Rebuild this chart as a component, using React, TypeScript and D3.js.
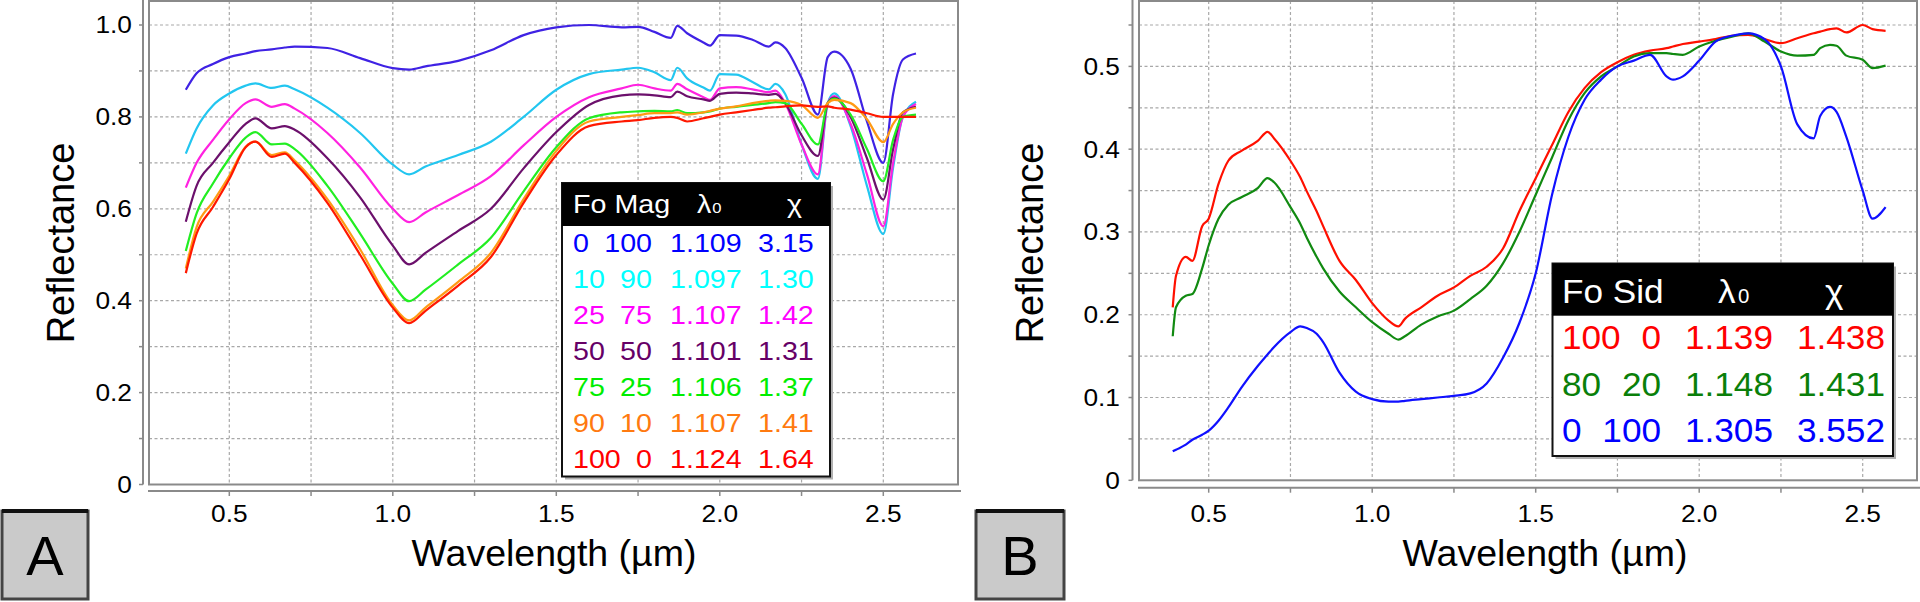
import React, { useEffect, useRef } from 'react';
import * as d3 from 'd3';

// ---------- Panel A data (olivine / magnetite mixtures) ----------
const WL_A = [0.367, 0.4, 0.45, 0.5, 0.55, 0.58, 0.63, 0.67, 0.7, 0.8, 0.9, 1.0, 1.05, 1.1, 1.2, 1.3, 1.4, 1.5, 1.6, 1.7, 1.75, 1.8, 1.85, 1.87, 1.9, 1.95, 1.97, 2.0, 2.05, 2.1, 2.15, 2.17, 2.2, 2.25, 2.3, 2.33, 2.35, 2.4, 2.45, 2.5, 2.53, 2.56, 2.6];
const A_FO0 = [0.859, 0.895, 0.915, 0.93, 0.938, 0.943, 0.947, 0.951, 0.953, 0.95, 0.928, 0.906, 0.903, 0.91, 0.922, 0.945, 0.978, 0.995, 1.0, 0.995, 0.996, 0.985, 0.972, 0.998, 0.982, 0.962, 0.955, 0.978, 0.977, 0.968, 0.953, 0.962, 0.95, 0.885, 0.805, 0.93, 0.942, 0.905, 0.79, 0.7, 0.85, 0.925, 0.938];
const A_FO10 = [0.72, 0.775, 0.825, 0.851, 0.868, 0.873, 0.863, 0.868, 0.86, 0.82, 0.765, 0.696, 0.675, 0.692, 0.717, 0.746, 0.8, 0.859, 0.893, 0.903, 0.907, 0.897, 0.88, 0.907, 0.884, 0.864, 0.857, 0.893, 0.892, 0.876, 0.86, 0.872, 0.85, 0.74, 0.665, 0.83, 0.851, 0.78, 0.65, 0.545, 0.69, 0.8, 0.833];
const A_FO25 = [0.646, 0.7, 0.75, 0.795, 0.83, 0.838, 0.822, 0.828, 0.818, 0.765, 0.69, 0.6, 0.571, 0.592, 0.63, 0.671, 0.738, 0.8, 0.843, 0.862, 0.87, 0.862, 0.857, 0.872, 0.86, 0.843, 0.837, 0.862, 0.865, 0.86, 0.854, 0.857, 0.83, 0.74, 0.675, 0.83, 0.845, 0.785, 0.675, 0.562, 0.7, 0.8, 0.828];
const A_FO50 = [0.572, 0.65, 0.7, 0.745, 0.785, 0.797, 0.775, 0.78, 0.772, 0.71, 0.625, 0.52, 0.479, 0.504, 0.552, 0.6, 0.688, 0.767, 0.826, 0.847, 0.849, 0.847, 0.843, 0.855, 0.845, 0.838, 0.835, 0.85, 0.853, 0.851, 0.848, 0.85, 0.83, 0.76, 0.715, 0.83, 0.842, 0.8, 0.71, 0.62, 0.73, 0.81, 0.822];
const A_FO75 = [0.508, 0.59, 0.655, 0.71, 0.755, 0.767, 0.74, 0.742, 0.73, 0.65, 0.546, 0.437, 0.399, 0.424, 0.479, 0.537, 0.638, 0.734, 0.797, 0.81, 0.812, 0.813, 0.812, 0.815, 0.808, 0.81, 0.812, 0.818, 0.822, 0.826, 0.83, 0.832, 0.83, 0.785, 0.74, 0.83, 0.84, 0.805, 0.73, 0.66, 0.75, 0.8, 0.805];
const A_FO90 = [0.47, 0.56, 0.615, 0.672, 0.735, 0.746, 0.717, 0.723, 0.705, 0.621, 0.512, 0.39, 0.357, 0.385, 0.441, 0.504, 0.621, 0.726, 0.79, 0.8, 0.804, 0.808, 0.808, 0.81, 0.805, 0.81, 0.813, 0.818, 0.823, 0.83, 0.835, 0.836, 0.835, 0.826, 0.798, 0.83, 0.837, 0.83, 0.795, 0.745, 0.785, 0.81, 0.82];
const A_FO100 = [0.46, 0.546, 0.604, 0.665, 0.734, 0.746, 0.713, 0.72, 0.7, 0.613, 0.5, 0.385, 0.351, 0.378, 0.433, 0.495, 0.613, 0.717, 0.78, 0.79, 0.793, 0.798, 0.8, 0.798, 0.79, 0.797, 0.8, 0.805, 0.81, 0.815, 0.82, 0.821, 0.823, 0.825, 0.822, 0.823, 0.82, 0.816, 0.808, 0.8, 0.8, 0.8, 0.8];

const A_LINE_COLORS = ['#3f22e4', '#22c6f0', '#ff22e0', '#6c106c', '#22ee22', '#ff9a14', '#ff1800'];
const A_TEXT_COLORS = ['#0000ff', '#00ffff', '#ff00ff', '#660066', '#00ee00', '#ff7a10', '#ff0000'];
const A_LEG_FO = ['0', '10', '25', '50', '75', '90', '100'];
const A_LEG_MAG = ['100', '90', '75', '50', '25', '10', '0'];
const A_LEG_L0 = ['1.109', '1.097', '1.107', '1.101', '1.106', '1.107', '1.124'];
const A_LEG_CHI = ['3.15', '1.30', '1.42', '1.31', '1.37', '1.41', '1.64'];

// ---------- Panel B data (olivine / siderite mixtures) ----------
const WL_B = [0.39, 0.4, 0.43, 0.45, 0.48, 0.5, 0.53, 0.56, 0.6, 0.65, 0.68, 0.7, 0.75, 0.78, 0.8, 0.83, 0.85, 0.9, 0.95, 1.0, 1.05, 1.08, 1.1, 1.15, 1.2, 1.25, 1.3, 1.35, 1.4, 1.45, 1.5, 1.55, 1.6, 1.65, 1.7, 1.75, 1.8, 1.85, 1.9, 1.92, 1.95, 2.0, 2.05, 2.1, 2.15, 2.2, 2.25, 2.3, 2.35, 2.37, 2.4, 2.42, 2.45, 2.5, 2.53, 2.57];
const B_FO100 = [0.209, 0.247, 0.27, 0.265, 0.307, 0.316, 0.358, 0.386, 0.398, 0.41, 0.421, 0.413, 0.386, 0.366, 0.349, 0.325, 0.307, 0.265, 0.242, 0.214, 0.193, 0.186, 0.195, 0.209, 0.223, 0.233, 0.247, 0.258, 0.28, 0.325, 0.365, 0.405, 0.445, 0.474, 0.493, 0.505, 0.514, 0.519, 0.522, 0.524, 0.527, 0.53, 0.533, 0.537, 0.538, 0.533, 0.528, 0.534, 0.54, 0.542, 0.545, 0.546, 0.541, 0.55, 0.545, 0.543];
const B_FO80 = [0.174, 0.209, 0.223, 0.225, 0.256, 0.284, 0.316, 0.333, 0.342, 0.353, 0.365, 0.36, 0.33, 0.31, 0.293, 0.27, 0.256, 0.228, 0.209, 0.191, 0.177, 0.17, 0.174, 0.188, 0.198, 0.205, 0.219, 0.235, 0.262, 0.3, 0.345, 0.39, 0.435, 0.468, 0.488, 0.5, 0.512, 0.516, 0.516, 0.515, 0.514, 0.524, 0.531, 0.536, 0.54, 0.53, 0.518, 0.513, 0.514, 0.522, 0.526, 0.525, 0.513, 0.508, 0.498, 0.501];
const B_FO0 = [0.035, 0.037, 0.043, 0.049, 0.055, 0.06, 0.072, 0.088, 0.112, 0.138, 0.152, 0.161, 0.179, 0.186, 0.184, 0.177, 0.167, 0.13, 0.107, 0.098, 0.095, 0.095, 0.096, 0.098, 0.1, 0.102, 0.105, 0.117, 0.148, 0.19, 0.25, 0.345, 0.415, 0.46, 0.484, 0.5, 0.507, 0.514, 0.488, 0.484, 0.488, 0.507, 0.53, 0.537, 0.54, 0.533, 0.5, 0.43, 0.413, 0.44, 0.451, 0.445, 0.415, 0.35, 0.316, 0.33];

const B_LINE_COLORS = ['#ff1000', '#118a11', '#1010ff'];
const B_TEXT_COLORS = ['#ff0000', '#0a7f0a', '#0000ff'];
const B_LEG_FO = ['100', '80', '0'];
const B_LEG_SID = ['0', '20', '100'];
const B_LEG_L0 = ['1.139', '1.148', '1.305'];
const B_LEG_CHI = ['1.438', '1.431', '3.552'];

const X_TICKS = [0.5, 1.0, 1.5, 2.0, 2.5];
const X_TICK_LABELS = ['0.5', '1.0', '1.5', '2.0', '2.5'];
const A_Y_TICKS = [0, 0.2, 0.4, 0.6, 0.8, 1.0];
const A_Y_LABELS = ['0', '0.2', '0.4', '0.6', '0.8', '1.0'];
const B_Y_TICKS = [0, 0.1, 0.2, 0.3, 0.4, 0.5];
const B_Y_LABELS = ['0', '0.1', '0.2', '0.3', '0.4', '0.5'];

const FONT = "'Liberation Sans', Arial, Helvetica, sans-serif";

export default function App() {
  const ref = useRef<SVGSVGElement | null>(null);

  useEffect(() => {
    const svg = d3.select(ref.current);
    svg.selectAll('*').remove();

    type Panel = {
      frame: { l: number; t: number; r: number; b: number };
      x: d3.ScaleLinear<number, number>;
      y: d3.ScaleLinear<number, number>;
      gridY: number[];
      yTicks: number[];
      yLabels: string[];
      axisX: number;
      axisY: number;
      yLabelRight: number;
      titleX: number;
      ylabX: number;
      wl: number[];
      series: number[][];
      colors: string[];
      tag: string;
      tagBox: { x: number; w: number };
    };

    const xA = d3.scaleLinear().domain([0.5, 2.5]).range([229.3, 883.3]);
    const yA = d3.scaleLinear().domain([0, 1]).range([484.5, 25]);
    const xB = d3.scaleLinear().domain([0.5, 2.5]).range([1208.7, 1862.7]);
    const yB = d3.scaleLinear().domain([0, 0.5]).range([480.3, 66.4]);

    const panels: Panel[] = [
      {
        frame: { l: 149, t: 1, r: 958, b: 484.5 },
        x: xA, y: yA,
        gridY: d3.range(1, 11).map((d) => d / 10),
        yTicks: A_Y_TICKS, yLabels: A_Y_LABELS,
        axisX: 143, axisY: 491, yLabelRight: 132,
        titleX: 554, ylabX: 74,
        wl: WL_A,
        series: [A_FO0, A_FO10, A_FO25, A_FO50, A_FO75, A_FO90, A_FO100],
        colors: A_LINE_COLORS,
        tag: 'A', tagBox: { x: 2, w: 86 },
      },
      {
        frame: { l: 1139, t: 1, r: 1917, b: 480.3 },
        x: xB, y: yB,
        gridY: d3.range(1, 12).map((d) => d / 20),
        yTicks: B_Y_TICKS, yLabels: B_Y_LABELS,
        axisX: 1132.5, axisY: 487.7, yLabelRight: 1120,
        titleX: 1545, ylabX: 1043,
        wl: WL_B,
        series: [B_FO100, B_FO80, B_FO0],
        colors: B_LINE_COLORS,
        tag: 'B', tagBox: { x: 976, w: 88 },
      },
    ];

    panels.forEach((p) => {
      const g = svg.append('g');
      const f = p.frame;
      const gridX = d3.range(2, 11).map((d) => d / 4);
      // grid
      g.selectAll('line.gx').data(gridX).enter().append('line')
        .attr('x1', (d) => p.x(d)).attr('x2', (d) => p.x(d))
        .attr('y1', f.t).attr('y2', f.b)
        .attr('stroke', '#a8a8a8').attr('stroke-width', 1.2).attr('stroke-dasharray', '3,2.5');
      g.selectAll('line.gy').data(p.gridY).enter().append('line')
        .attr('x1', f.l).attr('x2', f.r)
        .attr('y1', (d) => p.y(d)).attr('y2', (d) => p.y(d))
        .attr('stroke', '#a8a8a8').attr('stroke-width', 1.2).attr('stroke-dasharray', '3,2.5');
      // frame
      g.append('rect').attr('x', f.l).attr('y', f.t).attr('width', f.r - f.l).attr('height', f.b - f.t)
        .attr('fill', 'none').attr('stroke', '#8a8a8a').attr('stroke-width', 2);
      // outer axis lines
      g.append('line').attr('x1', p.axisX).attr('x2', p.axisX).attr('y1', 0).attr('y2', f.b)
        .attr('stroke', '#8a8a8a').attr('stroke-width', 2);
      g.selectAll('line.ty').data(p.gridY.concat([0])).enter().append('line')
        .attr('x1', p.axisX - 4).attr('x2', p.axisX)
        .attr('y1', (d) => p.y(d)).attr('y2', (d) => p.y(d))
        .attr('stroke', '#8a8a8a').attr('stroke-width', 1.5);
      g.append('line').attr('x1', f.l - 1).attr('x2', f.r + 3).attr('y1', p.axisY).attr('y2', p.axisY)
        .attr('stroke', '#8a8a8a').attr('stroke-width', 2);
      g.selectAll('line.tx').data(gridX).enter().append('line')
        .attr('x1', (d) => p.x(d)).attr('x2', (d) => p.x(d))
        .attr('y1', p.axisY).attr('y2', p.axisY + 5)
        .attr('stroke', '#8a8a8a').attr('stroke-width', 1.5);
      // tick labels
      g.selectAll('text.xl').data(X_TICKS).enter().append('text')
        .attr('transform', (d) => `translate(${p.x(d)},522) scale(1.12,1)`)
        .attr('text-anchor', 'middle').attr('font-family', FONT).attr('font-size', 23.5)
        .attr('fill', '#000').text((d, i) => X_TICK_LABELS[i]);
      g.selectAll('text.yl').data(p.yTicks).enter().append('text')
        .attr('transform', (d) => `translate(${p.yLabelRight},${p.y(d) + 8.4}) scale(1.12,1)`)
        .attr('text-anchor', 'end').attr('font-family', FONT).attr('font-size', 23.5)
        .attr('fill', '#000').text((d, i) => p.yLabels[i]);
      // titles
      g.append('text').attr('x', p.titleX).attr('y', 566).attr('text-anchor', 'middle')
        .attr('font-family', FONT).attr('font-size', 37.5).attr('fill', '#000').text('Wavelength (µm)');
      g.append('text').attr('transform', `translate(${p.ylabX},243) rotate(-90)`).attr('text-anchor', 'middle')
        .attr('font-family', FONT).attr('font-size', 38).attr('fill', '#000').text('Reflectance');
      // series
      const line = d3.line<number>()
        .x((d, i) => p.x(p.wl[i]))
        .y((d) => p.y(d))
        .curve(d3.curveMonotoneX);
      p.series.forEach((s, i) => {
        g.append('path').attr('d', line(s) as string).attr('fill', 'none')
          .attr('stroke', p.colors[i]).attr('stroke-width', 2.2).attr('stroke-linejoin', 'round');
      });
      // tag box
      g.append('rect').attr('x', p.tagBox.x).attr('y', 511).attr('width', p.tagBox.w).attr('height', 88)
        .attr('fill', '#cacaca').attr('stroke', '#444').attr('stroke-width', 3);
      g.append('line').attr('x1', p.tagBox.x).attr('x2', p.tagBox.x + p.tagBox.w).attr('y1', 511).attr('y2', 511)
        .attr('stroke', '#111').attr('stroke-width', 4);
      g.append('text').attr('x', p.tagBox.x + p.tagBox.w / 2).attr('y', 575).attr('text-anchor', 'middle')
        .attr('font-family', FONT).attr('font-size', 56).attr('fill', '#000').text(p.tag);
    });

    // ---------- Legends ----------
    const legend = (
      box: { l: number; t: number; r: number; b: number; hb: number },
      head: { base: number; fo: number; lam: number; chi: number; label: string },
      rows: { base0: number; step: number },
      cols: { c1: number; c2: number; c3: number; c4: number },
      fs: number, sx: number,
      c1: string[], c2: string[], c3: string[], c4: string[], colors: string[]
    ) => {
      const g = svg.append('g');
      g.append('rect').attr('x', box.l + 3).attr('y', box.t + 3).attr('width', box.r - box.l).attr('height', box.b - box.t)
        .attr('fill', '#b0b0b0');
      g.append('rect').attr('x', box.l).attr('y', box.t).attr('width', box.r - box.l).attr('height', box.b - box.t)
        .attr('fill', '#fff').attr('stroke', '#111').attr('stroke-width', 2);
      g.append('rect').attr('x', box.l).attr('y', box.t).attr('width', box.r - box.l).attr('height', box.hb - box.t)
        .attr('fill', '#000');
      const t = (x: number, y: number, s: string, col: string, anchor = 'start', size = fs) =>
        g.append('text').attr('transform', `translate(${x},${y}) scale(${sx},1)`).attr('text-anchor', anchor)
          .attr('font-family', FONT).attr('font-size', size).attr('fill', col).text(s);
      t(head.fo, head.base, head.label, '#fff');
      t(head.lam, head.base, 'λ', '#fff');
      t(head.lam + fs * 0.6, head.base, '0', '#fff', 'start', fs * 0.58);
      t(head.chi, head.base, 'χ', '#fff');
      c1.forEach((s, i) => {
        const y = rows.base0 + rows.step * i;
        t(cols.c1, y, s, colors[i]);
        t(cols.c2, y, c2[i], colors[i], 'end');
        t(cols.c3, y, c3[i], colors[i]);
        t(cols.c4, y, c4[i], colors[i]);
      });
    };

    legend(
      { l: 562, t: 183, r: 830, b: 476.5, hb: 226 },
      { base: 213, fo: 573, lam: 697, chi: 787, label: 'Fo Mag' },
      { base0: 251.7, step: 36.1 },
      { c1: 573, c2: 652, c3: 670, c4: 758 },
      25.6, 1.12,
      A_LEG_FO, A_LEG_MAG, A_LEG_L0, A_LEG_CHI, A_TEXT_COLORS
    );
    legend(
      { l: 1552.5, t: 263.5, r: 1893, b: 456, hb: 315.7 },
      { base: 303, fo: 1562, lam: 1718, chi: 1825, label: 'Fo Sid' },
      { base0: 349.3, step: 46.2 },
      { c1: 1562, c2: 1661, c3: 1685, c4: 1797 },
      33.5, 1.05,
      B_LEG_FO, B_LEG_SID, B_LEG_L0, B_LEG_CHI, B_TEXT_COLORS
    );
  }, []);

  return (
    <svg
      ref={ref}
      width={1920}
      height={602}
      style={{ position: 'absolute', left: 0, top: 0, background: '#fff' }}
    />
  );
}
